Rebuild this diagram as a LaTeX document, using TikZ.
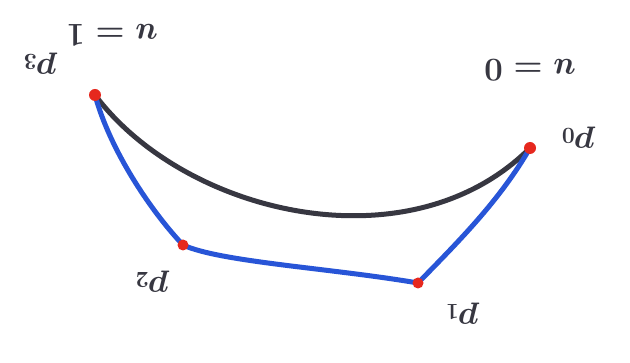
\documentclass[tikz,border=0pt]{standalone}
\begin{document}
\begin{tikzpicture}[x=1pt,y=-1pt,
  ink/.style={line width=5pt,line cap=round,line join=round},
  blk/.style={ink,draw=inkgray},
  blu/.style={ink,draw=inkblue},
  dot/.style={circle,fill=inkred,inner sep=0pt,minimum size=12pt},
  lab/.style={rotate=180,scale=1.6,text=inkgray,font=\huge\boldmath}]
\definecolor{inkgray}{RGB}{55,55,65}
\definecolor{inkblue}{RGB}{40,85,215}
\definecolor{inkred}{RGB}{230,40,30}
\useasboundingbox (0,0) rectangle (630,363);
\fill[white] (0,0) rectangle (630,363);
\coordinate (p3) at (95,95);
\coordinate (p0) at (530,148);
\coordinate (p2) at (183,245);
\coordinate (p1) at (418,283);
\draw[blk] (p3) .. controls (185,215) and (410,268) .. (p0);
\draw[blu] (p3) .. controls (110,150) and (150,210) .. (p2)
  .. controls (220,262) and (330,268) .. (p1)
  .. controls (460,240) and (500,200) .. (p0);
\node[dot] (d3) at (p3) {};
\node[dot] (d0) at (p0) {};
\node[dot,minimum size=11pt] (d2) at (p2) {};
\node[dot,minimum size=11pt] (d1) at (p1) {};
\node[lab] (l3) at (40,64) {$p_3$};
\node[lab] (lu1) at (112,35) {$u=1$};
\node[lab] (lu0) at (530,70) {$u=0$};
\node[lab] (l0) at (578,138) {$p_0$};
\node[lab] (l2) at (152,282) {$p_2$};
\node[lab] (l1) at (462,314) {$p_1$};
\end{tikzpicture}
\end{document}
